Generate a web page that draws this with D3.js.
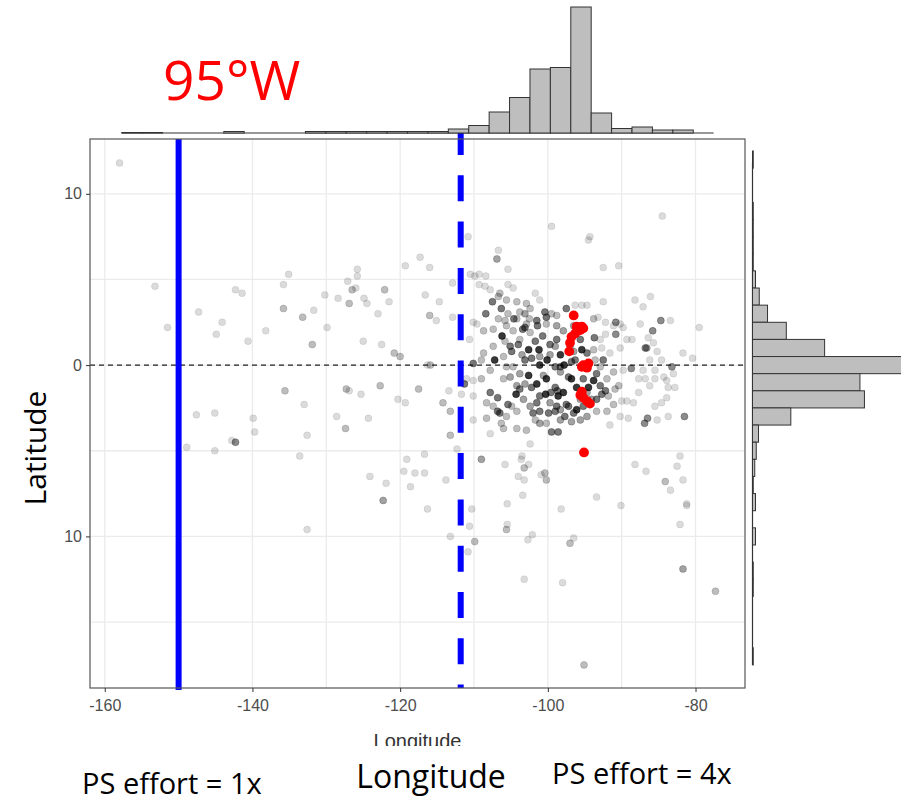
<!DOCTYPE html>
<html><head><meta charset="utf-8">
<script src="https://cdn.jsdelivr.net/npm/d3@7"></script>
<style>body{margin:0;background:#fff}svg{display:block}</style>
</head><body>
<svg id="c" width="901" height="803"></svg>
<script>
// ---------- data ----------
const lonTicks = [-160, -140, -120, -100, -80];
const latTicks = [10, 0, -10];
const latTickLabels = ["10", "0", "10"];
const lonGrid = [-160, -150, -140, -130, -120, -110, -100, -90, -80];
const latGrid = [-15, -10, -5, 0, 5, 10];
const solidLineLon = -150;
const dashedLineLon = -111.8;
const refLat = 0;

// top marginal histogram (longitude)
const lonBinStart = -157.7;
const lonBinWidth = 2.764;
const lonCounts = [1,1,0,0,0,3,0,0,0,3,3,3,3,3,3,3,8,15,42,71,128,131,252,40,9,12,6,6,0];

// right marginal histogram (latitude), bins from top
const latBinTop = 12.5;
const latBinWidth = 1;
const latCounts = [1,0,0,1,1,1,1,4,9,20,45,96,199,143,149,51,8,5,3,1,4,0,4,0,1,1,0,0,0,1];

// scatter points: [longitude, latitude, overlapping count]
const westPoints = [
[-158.0,11.8,1],[-153.2,4.6,1],[-151.5,2.2,1],[-147.3,3.1,1],[-144.1,2.5,1],[-144.9,1.8,1],[-142.3,4.4,1],[-141.4,4.2,1],
[-140.6,1.4,1],[-138.2,2.0,1],[-135.8,4.7,1],[-135.1,5.3,1],[-135.8,3.3,2],[-133.2,2.8,2],[-131.7,3.2,1],[-131.9,1.2,2],
[-130.2,4.1,1],[-129.9,2.2,1],[-128.4,3.9,1],[-127.1,4.9,1],[-125.8,5.6,1],[-125.8,5.2,1],[-126.5,4.4,2],[-126.0,4.5,1],
[-126.9,3.6,2],[-124.9,3.9,1],[-124.5,3.6,1],[-125.0,1.4,1],[-123.0,3.0,1],[-122.5,1.2,1],[-122.1,4.4,2],[-121.5,3.7,1],
[-120.8,0.7,2],[-120.0,0.5,2],[-119.3,5.8,1],[-117.3,6.3,1],[-116.6,4.1,1],[-116.0,5.7,1],[-114.7,3.7,1],[-116.0,2.9,2],
[-115.1,2.6,1],[-112.9,4.8,1],[-112.9,2.8,1],[-116.3,0.0,1],[-115.9,0.0,2],[-135.6,-1.5,2],[-133.0,-2.3,1],[-132.6,-4.1,1],
[-139.9,-3.1,1],[-139.7,-3.9,1],[-147.6,-2.9,1],[-145.1,-2.8,1],[-142.3,-4.5,4],[-142.8,-4.4,1],[-128.6,-3.0,1],[-127.3,-1.4,2],
[-126.9,-1.5,1],[-125.3,-1.7,1],[-127.4,-3.7,2],[-124.3,-3.1,1],[-122.7,-1.2,2],[-120.3,-2.0,1],[-119.3,-2.2,1],[-117.5,-1.4,2],
[-113.4,-1.5,1],[-114.2,-2.2,2],[-113.2,-2.7,2],[-113.2,-4.1,2],
[-148.9,-4.8,1],[-145.1,-5.0,1],[-133.6,-5.3,1],[-132.6,-9.6,1],[-116.7,-5.2,1],[-119.1,-5.5,1],[-119.5,-6.2,1],[-118.0,-6.3,1],
[-116.7,-6.3,1],[-118.6,-7.1,1],[-124.1,-6.5,1],[-121.9,-6.9,1],[-122.3,-7.9,3],[-116.3,-8.4,1]
];
const southPoints = [
[-109.0,-5.5,3],[-105.8,-5.8,1],[-103.6,-5.5,1],[-103.2,-6.0,2],[-102.6,-5.8,1],[-104.0,-6.5,1],[-103.2,-6.7,1],[-100.9,-6.4,1],
[-100.4,-6.3,2],[-100.2,-6.7,2],[-113.8,-6.7,1],[-110.3,-8.4,1],[-110.6,-9.4,1],[-113.2,-10.0,1],[-109.9,-10.3,2],
[-110.8,-10.9,1],[-105.5,-8.1,1],[-103.4,-7.6,1],[-105.5,-9.3,1],[-105.6,-9.6,2],[-102.1,-9.9,1],[-102.7,-10.2,1],[-103.2,-12.5,1],
[-98.2,-8.4,1],[-93.4,-7.7,1],[-90.1,-8.2,1],[-96.5,-10.1,1],[-97.0,-10.4,2],[-98.0,-12.7,1],[-95.1,-17.5,2],[-88.2,-5.8,1],
[-86.7,-6.2,1],[-82.5,-5.9,1],[-84.1,-6.8,2],[-83.4,-7.3,1],[-81.7,-6.7,1],[-81.2,-8.1,1],[-81.2,-8.2,1],[-82.1,-9.3,1],
[-81.7,-11.9,3],[-77.3,-13.2,2],
[-110.8,7.5,1],[-106.7,6.7,1],[-106.9,6.2,3],[-105.4,5.6,1],[-99.5,8.1,1],[-94.3,7.5,1],[-94.5,7.3,1],[-84.5,8.7,1],
[-92.5,5.7,1],[-90.4,5.8,1]
];
const clusterDark = [
[-107.5,3.7,5],[-106.3,3.3,5],[-108.4,3.0,5],[-106.2,1.7,10],[-104.6,2.7,5],[-107.2,0.3,10],[-110.1,0.1,5],[-111.3,-1.1,5],
[-107.8,-1.6,5],[-104.3,-1.7,10],[-103.8,-1.4,5],[-106.8,-1.9,5],[-105.4,-2.3,5],[-106.8,-2.7,5],[-106.5,-2.8,5],[-105.1,1.1,5],
[-104.9,0.8,5],[-104.0,1.2,5],[-102.6,0.9,10],[-101.2,0.9,10],[-102.2,0.4,5],[-103.1,0.3,5],[-101.1,0.0,10],[-100.1,0.3,10],
[-100.2,-0.8,10],[-102.6,-0.6,10],[-101.5,-1.1,10],[-102.2,-1.3,5],[-100.3,-1.7,10],[-98.6,-1.8,10],[-97.9,-1.6,10],[-98.8,-2.4,5],
[-97.5,-2.3,5],[-96.1,-1.3,10],[-96.5,-2.8,5],[-96.1,-2.6,10],[-94.5,-1.3,10],[-93.8,-0.9,10],[-95.2,-0.8,5],[-94.7,0.7,5],
[-95.4,0.9,10],[-93.7,1.6,5],[-95.6,1.5,5],[-97.5,3.3,5],[-100.4,3.1,5],[-100.2,2.8,5],[-101.4,2.3,5],[-103.1,2.2,5],
[-103.4,2.1,5],[-98.3,0.6,10],[-99.0,-0.1,5],[-98.3,-0.1,5],[-97.8,0.0,10],[-96.8,0.2,5],[-96.3,0.3,5],[-97.2,-0.7,5],
[-96.8,-0.8,10],[-99.0,-1.3,5],[-98.7,-1.5,5],[-99.6,-1.6,5],[-101.1,-1.8,5],[-101.5,-2.2,5],[-102.0,-2.8,5],[-99.9,-2.8,5],
[-99.0,-2.7,5],[-97.7,-3.0,5],[-101.1,-2.7,5],[-99.5,-3.9,5],[-98.6,-3.9,5],[-97.2,-2.4,5],[-95.2,-2.4,5],[-93.4,-2.0,5],
[-92.7,-1.7,5],[-92.2,-1.5,5],[-92.9,-1.2,5],[-93.4,-0.5,5],[-92.5,0.3,5],[-90.8,1.8,4],[-90.8,2.5,4],[-98.8,1.5,5],
[-99.7,1.2,5],[-101.7,1.4,5],[-100.7,1.7,5],[-101.5,2.6,5],[-103.1,3.0,3],[-88.7,-0.2,4],[-84.7,2.6,4],[-85.8,2.0,4],
[-86.8,1.0,4],[-86.6,1.0,3],[-83.2,-0.1,4],[-81.5,-3.0,4],[-86.5,-3.1,4],[-86.9,-3.4,4]
];
const clusterLight = [
[-110.5,5.3,1],[-109.9,5.2,1],[-109.3,5.3,1],[-108.4,5.2,1],[-109.3,4.7,1],[-108.5,4.6,1],[-107.8,4.4,1],[-106.5,4.2,2],
[-105.4,4.7,1],[-104.7,4.5,1],[-106.7,4.0,2],[-105.6,3.8,2],[-104.2,3.7,2],[-102.9,3.6,2],[-102.4,3.3,2],[-101.1,3.8,1],
[-101.7,4.2,1],[-105.4,3.0,2],[-103.8,3.1,2],[-102.5,2.7,2],[-104.2,2.7,2],[-105.8,2.6,2],[-106.7,2.7,2],[-109.6,2.4,1],
[-110.1,2.5,1],[-110.6,1.5,1],[-108.7,2.0,2],[-107.4,2.1,2],[-105.6,2.3,2],[-104.7,2.0,2],[-102.9,2.4,2],[-100.2,2.4,2],
[-103.8,1.5,2],[-102.4,1.9,2],[-105.8,1.4,2],[-107.4,1.1,2],[-108.7,0.7,2],[-109.0,0.3,2],[-106.0,0.5,2],[-105.6,-0.1,2],
[-104.7,-0.1,2],[-107.8,-0.3,2],[-106.0,-0.8,2],[-109.0,-0.8,2],[-110.1,-0.9,1],[-111.0,-0.8,1],[-111.7,-1.7,1],[-110.1,-1.8,1],
[-108.3,-2.2,2],[-107.4,-2.4,2],[-104.9,-2.4,2],[-104.2,-2.7,2],[-105.6,-3.0,2],[-106.3,-3.4,2],[-107.8,-4.0,1],[-110.1,-3.2,1],
[-108.3,-3.1,2],[-106.0,-3.7,2],[-104.2,-3.7,2],[-102.9,-3.8,2],[-101.7,-3.2,2],[-100.2,-3.4,2],[-102.4,-4.6,1],[-99.5,3.0,2],
[-98.8,2.9,2],[-96.3,3.5,1],[-95.4,3.5,1],[-94.7,3.5,1],[-92.5,3.7,1],[-93.2,2.8,1],[-92.2,2.5,1],[-91.1,2.3,1],
[-90.2,2.4,1],[-89.8,2.2,1],[-92.2,1.8,1],[-92.9,1.5,1],[-93.8,0.9,2],[-92.7,1.0,1],[-91.6,0.7,1],[-90.2,1.0,1],
[-89.3,1.5,1],[-88.6,1.5,1],[-88.2,3.8,1],[-87.1,3.4,1],[-86.1,4.0,1],[-87.5,2.4,1],[-86.4,1.6,1],[-85.7,1.3,1],
[-85.2,0.8,1],[-84.6,0.3,1],[-86.2,0.3,1],[-87.1,-0.3,1],[-85.5,-0.3,1],[-83.4,2.6,1],[-81.7,0.7,1],[-80.4,0.4,1],
[-79.5,2.2,1],[-83.0,-0.5,1],[-83.9,-0.9,1],[-82.8,-1.3,1],[-83.7,-1.3,1],[-84.3,-0.7,1],[-86.8,-0.8,1],[-87.7,-0.8,1],
[-85.5,-0.8,1],[-86.2,-1.2,1],[-87.7,-1.6,1],[-88.4,-2.2,1],[-89.3,-2.1,1],[-90.0,-2.1,1],[-90.2,-3.0,1],[-89.1,-3.1,1],
[-91.6,-3.5,1],[-91.1,-2.3,2],[-92.0,-2.7,2],[-90.4,-1.2,2],[-91.1,-0.4,2],[-89.8,-0.3,1],[-90.9,-1.4,2],[-84.6,-2.2,1],
[-83.9,-1.9,1],[-85.5,-2.4,1],[-85.2,-3.2,1],[-83.7,-3.0,1],[-82.1,-5.3,1],[-103.5,-5.3,1],[-112.3,-4.9,1],[-98.3,-0.4,3],
[-100.6,-0.6,3],[-103.8,-0.5,3],[-95.6,-2.0,3],[-94.7,-1.6,3],[-94.1,-2.0,3],[-91.8,-1.8,2],[-92.0,-0.8,2],[-92.9,-0.1,2],
[-93.6,0.3,2],[-103.3,-2.0,3],[-102.4,-2.4,3],[-99.7,-2.2,3],[-98.3,-2.6,3],[-96.8,-3.3,3],[-95.6,-3.2,3],[-94.7,-3.0,3],
[-93.4,-2.7,2],[-98.3,-3.2,3],[-101.1,-3.4,3],[-104.2,-1.2,3],[-105.1,-0.7,3],[-103.1,-1.1,3],[-103.5,0.6,3],[-101.1,0.5,3],
[-99.7,0.6,3],[-97.0,1.1,3],[-96.5,0.8,3],[-93.8,2.7,2],[-96.5,2.3,3],[-98.8,2.3,3],[-97.9,2.0,3],[-99.0,1.1,3]
];
// highlighted (red) points near 95°W
const redPoints = [
[-96.5,2.9],[-96.1,2.25],[-95.4,2.25],[-95.2,2.15],[-95.6,2.05],[-96.3,1.85],[-96.8,1.65],[-97.0,1.3],[-97.1,0.8],
[-95.2,0.0],[-94.5,0.1],[-94.7,-0.15],[-95.4,-0.1],[-95.4,-1.55],[-95.6,-1.75],[-95.2,-1.9],[-94.7,-2.1],[-94.3,-2.25],[-95.1,-5.1]
];

// ---------- drawing ----------
const svg = d3.select("#c");
const P = {l: 90, r: 745, t: 139, b: 688};
const x = d3.scaleLinear().domain([-162, -73.3]).range([P.l, P.r]);
const y = d3.scaleLinear().domain([-18.85, 13.2]).range([P.b, P.t]);

// grid
const grid = svg.append("g");
grid.selectAll("line.v").data(lonGrid).join("line")
  .attr("x1", d => x(d)).attr("x2", d => x(d)).attr("y1", P.t).attr("y2", P.b)
  .attr("stroke", "#ebebeb").attr("stroke-width", 1.3);
grid.selectAll("line.h").data(latGrid).join("line")
  .attr("y1", d => y(d)).attr("y2", d => y(d)).attr("x1", P.l).attr("x2", P.r)
  .attr("stroke", "#ebebeb").attr("stroke-width", 1.3);

// reference latitude dashed
svg.append("line").attr("x1", P.l).attr("x2", P.r).attr("y1", y(refLat)).attr("y2", y(refLat))
  .attr("stroke", "#222").attr("stroke-width", 1.2).attr("stroke-dasharray", "5,4");

// scatter
const allPts = westPoints.concat(southPoints, clusterLight, clusterDark);
const alpha = n => 1 - Math.pow(0.86, n);
svg.append("g").selectAll("circle").data(allPts).join("circle")
  .attr("cx", d => x(d[0])).attr("cy", d => y(d[1])).attr("r", 3.5)
  .attr("fill", "#000").attr("fill-opacity", d => alpha(d[2]))
  .attr("stroke", "#000").attr("stroke-opacity", d => alpha(d[2]) * 0.7).attr("stroke-width", 0.8);

svg.append("g").selectAll("circle").data(redPoints).join("circle")
  .attr("cx", d => x(d[0])).attr("cy", d => y(d[1])).attr("r", 4.9)
  .attr("fill", "#ff0000");

// vertical blue lines
svg.append("line").attr("x1", x(solidLineLon)).attr("x2", x(solidLineLon))
  .attr("y1", P.t).attr("y2", P.b + 2).attr("stroke", "#0000ff").attr("stroke-width", 6);
svg.append("line").attr("x1", x(dashedLineLon)).attr("x2", x(dashedLineLon))
  .attr("y1", 129).attr("y2", P.b).attr("stroke", "#0000ff").attr("stroke-width", 6)
  .attr("stroke-dasharray", "26,20.3");

// panel border
svg.append("rect").attr("x", P.l).attr("y", P.t).attr("width", P.r - P.l).attr("height", P.b - P.t)
  .attr("fill", "none").attr("stroke", "#555").attr("stroke-width", 1.2);

// axes
const tickFont = "16px 'Liberation Sans', Arial, sans-serif";
const gx = svg.append("g").attr("transform", `translate(0,${P.b})`)
  .call(d3.axisBottom(x).tickValues(lonTicks).tickSize(4).tickPadding(8).tickFormat(d => String(d)));
gx.select(".domain").remove();
gx.selectAll(".tick line").attr("stroke", "#333");
gx.selectAll(".tick text").attr("fill", "#4d4d4d").style("font", tickFont);

const gy = svg.append("g").attr("transform", `translate(${P.l},0)`)
  .call(d3.axisLeft(y).tickValues(latTicks).tickSize(4).tickPadding(4).tickFormat((d, i) => latTickLabels[i]));
gy.select(".domain").remove();
gy.selectAll(".tick line").attr("stroke", "#333");
gy.selectAll(".tick text").attr("fill", "#4d4d4d").style("font", tickFont);

// small (clipped) axis title
svg.append("clipPath").attr("id", "cut").append("rect")
  .attr("x", 300).attr("y", 720).attr("width", 240).attr("height", 26);
svg.append("text").attr("x", (P.l + P.r) / 2).attr("y", 748).attr("text-anchor", "middle")
  .attr("clip-path", "url(#cut)").attr("fill", "#333")
  .style("font", "20px 'Liberation Sans', Arial, sans-serif").text("Longitude");

// top marginal histogram
const topBase = 133;
const yTop = d3.scaleLinear().domain([0, d3.max(lonCounts)]).range([topBase, 7]);
const topEnd = lonBinStart + lonCounts.length * lonBinWidth;
svg.append("line").attr("x1", x(lonBinStart)).attr("x2", x(topEnd))
  .attr("y1", topBase).attr("y2", topBase).attr("stroke", "#333").attr("stroke-width", 1.2);
svg.append("g").selectAll("rect").data(lonCounts).join("rect")
  .attr("x", (d, i) => x(lonBinStart + i * lonBinWidth))
  .attr("width", (d, i) => x(lonBinStart + (i + 1) * lonBinWidth) - x(lonBinStart + i * lonBinWidth))
  .attr("y", d => yTop(d)).attr("height", d => topBase - yTop(d))
  .attr("fill", "#bebebe").attr("stroke", "#333").attr("stroke-width", 1);

// right marginal histogram
const rightBase = 752.5;
const xRight = d3.scaleLinear().domain([0, d3.max(latCounts)]).range([rightBase, 902]);
const allLat = allPts.map(d => d[1]);
svg.append("line").attr("x1", rightBase).attr("x2", rightBase)
  .attr("y1", y(d3.max(allLat))).attr("y2", y(d3.min(allLat)))
  .attr("stroke", "#333").attr("stroke-width", 1.2);
svg.append("g").selectAll("rect").data(latCounts).join("rect")
  .attr("x", rightBase)
  .attr("y", (d, i) => y(latBinTop - i * latBinWidth))
  .attr("height", (d, i) => y(latBinTop - (i + 1) * latBinWidth) - y(latBinTop - i * latBinWidth))
  .attr("width", d => xRight(d) - rightBase)
  .attr("fill", "#bebebe").attr("stroke", "#333").attr("stroke-width", d => d > 0 ? 1 : 0);

// annotations
const bigFont = "'Open Sans', 'Noto Sans', sans-serif";
svg.append("text").attr("x", 163).attr("y", 100).attr("fill", "#ff0000")
  .style("font-family", bigFont).style("font-size", "55px").text("95°W");
svg.append("text").attr("transform", "translate(46,448) rotate(-90)").attr("text-anchor", "middle")
  .attr("fill", "#000").style("font-family", bigFont).style("font-size", "30px").text("Latitude");
svg.append("text").attr("x", 82).attr("y", 794).attr("fill", "#000")
  .style("font-family", bigFont).style("font-size", "29px").text("PS effort = 1x");
svg.append("text").attr("x", 431).attr("y", 788).attr("text-anchor", "middle").attr("fill", "#000")
  .style("font-family", bigFont).style("font-size", "32px").text("Longitude");
svg.append("text").attr("x", 552).attr("y", 784).attr("fill", "#000")
  .style("font-family", bigFont).style("font-size", "29px").text("PS effort = 4x");
</script>
</body></html>
